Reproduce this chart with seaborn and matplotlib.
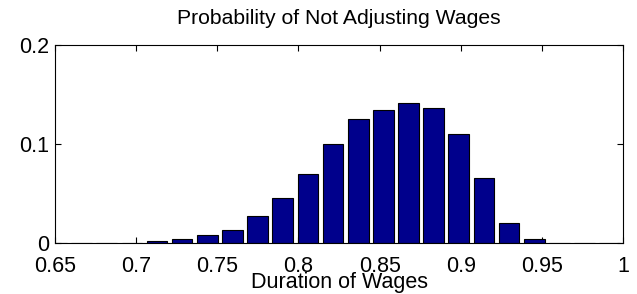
import matplotlib
matplotlib.use("Agg")
import matplotlib.pyplot as plt
import numpy as np
import pandas as pd
import seaborn as sns

# bin centres (duration of wages) and probability per bin
bin_centers = [0.6508, 0.6663, 0.6818, 0.6973, 0.7128, 0.7283, 0.7438, 0.7593,
               0.7748, 0.7903, 0.8058, 0.8213, 0.8368, 0.8523, 0.8678, 0.8833,
               0.8988, 0.9143, 0.9298, 0.9453, 0.9608, 0.9763, 0.9918]
probs = [0.0, 0.0, 0.0, 0.0, 0.0023, 0.004, 0.0077, 0.0134,
         0.0274, 0.0455, 0.0696, 0.1, 0.1254, 0.1344, 0.1415, 0.1361,
         0.1094, 0.0652, 0.0201, 0.004, 0.0, 0.0, 0.0]
x_ticks = [0.65, 0.7, 0.75, 0.8, 0.85, 0.9, 0.95, 1.0]
x_ticklabels = ['0.65', '0.7', '0.75', '0.8', '0.85', '0.9', '0.95', '1']
y_ticks = [0, 0.1, 0.2]
y_ticklabels = ['0', '0.1', '0.2']

df = pd.DataFrame({'duration': bin_centers, 'prob': probs})

sns.set_style('white')
plt.rcParams['font.family'] = ['Liberation Sans', 'DejaVu Sans']
plt.rcParams['text.color'] = 'black'

fig = plt.figure(figsize=(6.37, 2.94), dpi=100)
ax = fig.add_axes([0.0865, 0.1735, 0.8915, 0.675])

# matlab-style hist bars: 80% of the bin spacing
sns.barplot(data=df, x='duration', y='prob', native_scale=True, width=0.82,
            color='#00008c', saturation=1, edgecolor='black', linewidth=0.8,
            ax=ax)

ax.set_xlim(0.65, 1.0)
ax.set_ylim(0, 0.2)
ax.set_xticks(x_ticks)
ax.set_xticklabels(x_ticklabels, fontsize=15.5)
ax.set_yticks(y_ticks)
ax.set_yticklabels(y_ticklabels, fontsize=15.5)
ax.tick_params(direction='in', length=4, width=0.8, top=True, right=True,
               bottom=True, left=True, colors='black')
ax.tick_params(axis='x', pad=9.5)
ax.tick_params(axis='y', pad=4)
for s in ax.spines.values():
    s.set_visible(True)
    s.set_color('black')
    s.set_linewidth(0.8)

ax.set_title('Probability of Not Adjusting Wages', fontsize=15.2, pad=15,
             color='black')
ax.set_xlabel('Duration of Wages', fontsize=15.5, labelpad=-4, color='black')
ax.set_ylabel('')

fig.savefig('out.png', dpi=100)
